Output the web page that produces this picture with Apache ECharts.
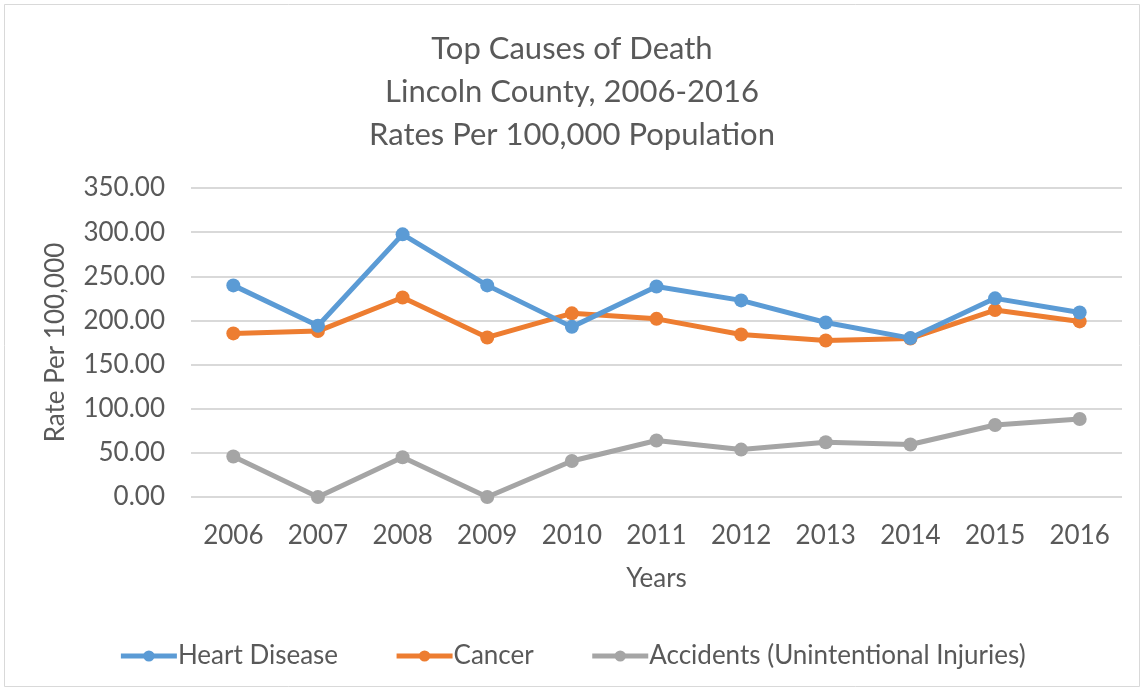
<!DOCTYPE html>
<html><head><meta charset="utf-8">
<script src="https://cdn.jsdelivr.net/npm/echarts@6/dist/echarts.min.js"></script>
<style>html,body{margin:0;padding:0;background:#fff}#c{width:1144px;height:691px}</style>
</head><body><div id="c"></div>
<script>
const years = ['2006','2007','2008','2009','2010','2011','2012','2013','2014','2015','2016'];
const heartDisease = [239.7,194,297.5,239.7,192.7,238.5,222.7,197.7,180,225,209];
const cancer = [185.3,187.9,226,180.7,208,201.8,184,177.3,179.6,211.7,198.9];
const accidents = [45.8,0,45,0,40.8,64,53.7,62,59.4,81.6,88.4];
const seriesNames = ['Heart Disease','Cancer','Accidents (Unintentional Injuries)'];
const colors = ['#5B9BD5','#ED7D31','#A5A5A5'];
const FONT = 'Lato';
const txt = '#595959';
const chart = echarts.init(document.getElementById('c'));
const mk = (name, data, i) => ({
  name, type:'line', data, color: colors[i],
  symbol:'circle', symbolSize:14,
  lineStyle:{width:5, color: colors[i]},
  itemStyle:{color: colors[i]},
  z: 10 - i
});
chart.setOption({
  backgroundColor:'#fff',
  animation:false,
  graphic:[{type:'rect', shape:{x:4.5,y:4.5,width:1135,height:682}, style:{fill:'none', stroke:'#d9d9d9', lineWidth:1}}],
  title:{
    text:'Top Causes of Death\nLincoln County, 2006-2016\nRates Per 100,000 Population',
    left:'center', top:22,
    textStyle:{fontFamily:FONT, fontSize:31, fontWeight:'normal', color:txt, lineHeight:43}
  },
  legend:{
    data: seriesNames, bottom:17, left:'center', itemGap:56,
    itemWidth:56, itemHeight:14,
    lineStyle:{width:5},
    textStyle:{fontFamily:FONT, fontSize:26, color:txt, padding:[0,0,0,-4]}
  },
  grid:{left:191, right:22, top:188, bottom:194, containLabel:false},
  xAxis:{
    type:'category', data: years, boundaryGap:true,
    name:'Years', nameLocation:'middle', nameGap:69,
    nameTextStyle:{fontFamily:FONT, fontSize:26, color:txt},
    axisLine:{show:false}, axisTick:{show:false},
    axisLabel:{fontFamily:FONT, fontSize:26, color:txt, margin:26}
  },
  yAxis:{
    type:'value', min:0, max:350, interval:50,
    name:'Rate Per 100,000', nameLocation:'middle', nameGap:122, nameRotate:90,
    nameTextStyle:{fontFamily:FONT, fontSize:26, color:txt},
    axisLine:{show:false}, axisTick:{show:false},
    splitLine:{lineStyle:{color:'#d9d9d9', width:2}},
    axisLabel:{fontFamily:FONT, fontSize:26, color:txt, margin:26, formatter:v=>v.toFixed(2)}
  },
  series:[mk(seriesNames[0],heartDisease,0), mk(seriesNames[1],cancer,1), mk(seriesNames[2],accidents,2)]
});
</script></body></html>
